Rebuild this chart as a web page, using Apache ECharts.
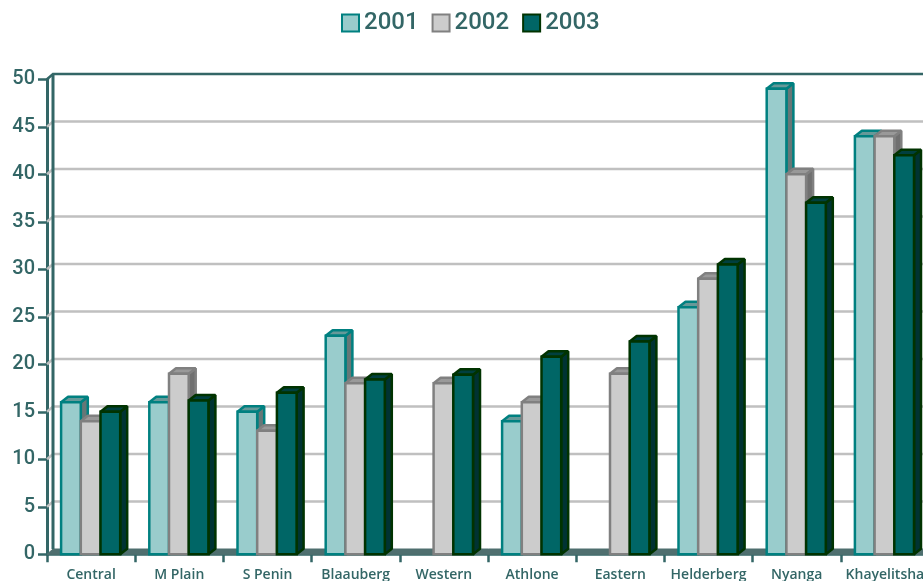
<!DOCTYPE html>
<html><head><meta charset="utf-8">
<style>html,body{margin:0;padding:0;background:#fff}#c{width:923px;height:581px}</style>
<script src="https://cdn.jsdelivr.net/npm/echarts@6/dist/echarts.min.js"></script>
</head><body><div id="c"></div>
<script>
const categories = ['Central','M Plain','S Penin','Blaauberg','Western','Athlone','Eastern','Helderberg','Nyanga','Khayelitsha'];
const values2001 = [16,16,15,23,null,14,null,26,49,44];
const values2002 = [14,19,13,18,18,16,19,29,40,44];
const values2003 = [15,16.2,17,18.4,18.9,20.8,22.4,30.5,37,42];
const yTicks = [0,5,10,15,20,25,30,35,40,45,50];

const DX = 6, DY = 5.3, BX = 7, BY = 5.5, BAR = 19.7, GRID_RIGHT = 929;
const AXIS = '#336666';
const styles = [
  {name:'2001', data:values2001, fill:'#99cccc', border:'#008080', top:'#669999', side:'#667777', slot:0},
  {name:'2002', data:values2002, fill:'#cccccc', border:'#808080', top:'#999999', side:'#707070', slot:1},
  {name:'2003', data:values2003, fill:'#006666', border:'#003300', top:'#003f3f', side:'#003333', slot:2}
];

function wallItem(params, api){
  const v = api.value(0);
  const p = api.coord([0, v]);
  const x0 = 47, y = p[1];
  const children = [];
  if (v === 0){
    children.push({type:'polygon', shape:{points:[[x0,y],[x0+DX,y-DY],[GRID_RIGHT,y-DY],[GRID_RIGHT,y]]},
      style:{fill:'#4f6f6f', stroke:'#4f6f6f', lineWidth:1}});
  } else if (v === 50){
    children.push({type:'polyline', shape:{points:[[x0,y],[x0+DX,y-DY],[GRID_RIGHT,y-DY]]},
      style:{fill:'none', stroke:AXIS, lineWidth:2.5}});
    const b = api.coord([0,0]);
    children.push({type:'line', shape:{x1:x0+DX,y1:y-DY,x2:x0+DX,y2:b[1]-DY},
      style:{stroke:AXIS, lineWidth:3}});
  } else {
    children.push({type:'polyline', shape:{points:[[x0,y],[x0+DX,y-DY],[GRID_RIGHT,y-DY]]},
      style:{fill:'none', stroke:'#c0c0c0', lineWidth:2.5}});
  }
  return {type:'group', children};
}

function barItem(s){
  return function(params, api){
    const v = api.value(1);
    if (v == null || isNaN(v)) return;
    const top = api.coord([api.value(0), v]);
    const base = api.coord([api.value(0), 0]);
    const l = top[0] - 30 + s.slot * BAR;
    const r = l + BAR;
    const t = top[1], b = base[1];
    const st = (fill) => ({fill, stroke:s.border, lineWidth:2.5, lineJoin:'bevel'});
    return {type:'group', children:[
      {type:'polygon', shape:{points:[[r,t],[r+BX,t-BY],[r+BX,b-BY],[r,b]]}, style:st(s.side)},
      {type:'polygon', shape:{points:[[l,t],[l+BX,t-BY],[r+BX,t-BY],[r,t]]}, style:st(s.top)},
      {type:'rect', shape:{x:l,y:t,width:BAR,height:b-t}, style:{fill:s.fill, stroke:s.border, lineWidth:2.5, lineJoin:'miter'}}
    ]};
  };
}

const chart = echarts.init(document.getElementById('c'), null, {renderer:'canvas'});
chart.setOption({
  animation:false,
  backgroundColor:'#fff',
  textStyle:{fontFamily:'Roboto'},
  legend:{
    data:styles.map(s=>s.name), top:6, left:336, itemWidth:17, itemHeight:17, itemGap:13,
    icon:'rect',
    textStyle:{color:AXIS, fontSize:24, fontWeight:500, fontFamily:'Roboto'}
  },
  grid:{left:47, top:79.3, width:882, height:475, outerBoundsMode:'none'},
  xAxis:{type:'category', data:categories,
    axisLine:{lineStyle:{color:AXIS,width:2.5}},
    axisTick:{show:true, length:8, lineStyle:{color:AXIS,width:2.5}},
    axisLabel:{color:AXIS, fontSize:14, fontWeight:600, margin:14, interval:0, fontFamily:'Open Sans'},
    splitLine:{show:false}},
  yAxis:{type:'value', min:0, max:50, interval:5,
    axisLine:{show:true, lineStyle:{color:AXIS,width:3}},
    axisTick:{show:true, length:9, lineStyle:{color:AXIS,width:2.5}},
    axisLabel:{color:AXIS, fontSize:20, fontWeight:500, margin:12, fontFamily:'Roboto'},
    splitLine:{show:false}},
  series:[
    {type:'custom', name:'wall', coordinateSystem:'cartesian2d', clip:false, silent:true, z:1,
     data:yTicks.map(v=>[v]), encode:{y:0}, renderItem:wallItem},
    ...styles.map(s=>({
      type:'custom', name:s.name, coordinateSystem:'cartesian2d', clip:false, z:3,
      itemStyle:{color:s.fill, borderColor:s.border, borderWidth:2.5},
      data:s.data.map((v,i)=>[i,v]), encode:{x:0,y:1}, renderItem:barItem(s)
    }))
  ]
});
</script></body></html>
